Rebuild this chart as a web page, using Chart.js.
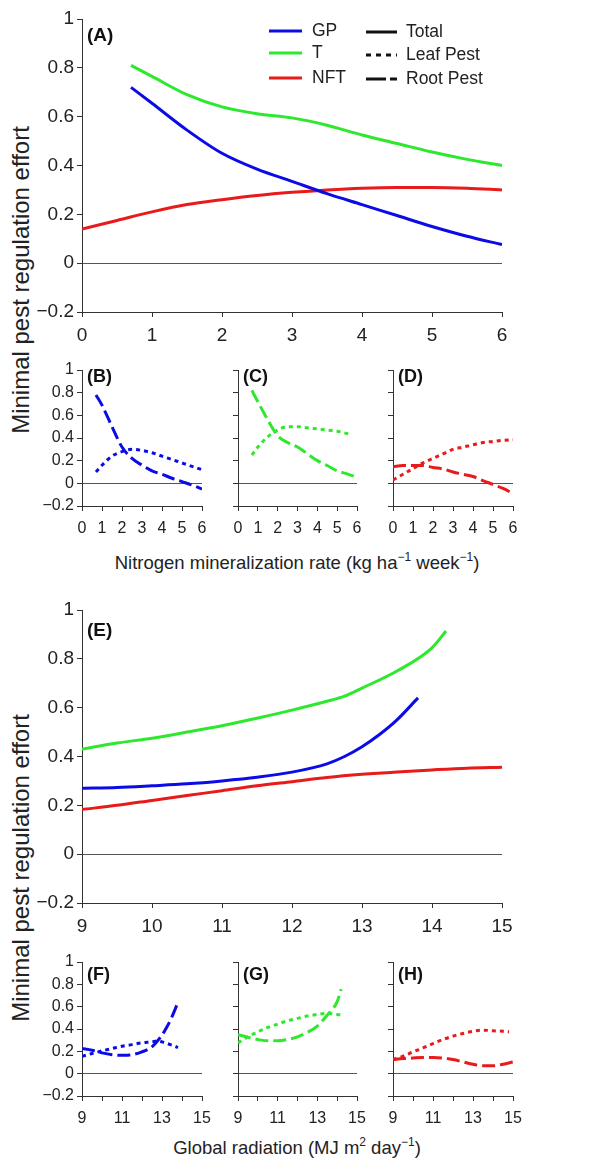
<!DOCTYPE html>
<html>
<head>
<meta charset="utf-8">
<script src="https://cdn.jsdelivr.net/npm/chart.js@4.4.0/dist/chart.umd.min.js"></script>
<style>
  body { margin: 0; background: #fff; }
  #page { position: relative; width: 613px; height: 1158px; overflow: hidden; font-family: "Liberation Sans", Arial, sans-serif; color: #222; }
  canvas { position: absolute; }
  .xtitle { position: absolute; font-size: 18.5px; white-space: nowrap; transform: translate(-50%, -50%); }
  .ytitle { position: absolute; font-size: 24px; white-space: nowrap; transform: translate(-50%, -50%) rotate(-90deg); }
  sup { font-size: 12px; }
</style>
</head>
<body>
<div id="page">
  <div class="ytitle" style="left:21px; top:280px;">Minimal pest regulation effort</div>
  <div class="ytitle" style="left:21px; top:868px;">Minimal pest regulation effort</div>
  <div class="xtitle" style="left:297px; top:562px;">Nitrogen mineralization rate (kg ha<sup>−1</sup> week<sup>−1</sup>)</div>
  <div class="xtitle" style="left:297px; top:1147px;">Global radiation (MJ m<sup>2</sup> day<sup>−1</sup>)</div>
</div>
<script>
// Colours for the three crop types
const BLUE = '#0b0be6';
const GREEN = '#2ee82e';
const RED = '#e81a1a';

// Nitrogen mineralization rate (x values)
const nitroX = [0, 0.5, 1, 1.5, 2, 2.5, 3, 3.5, 4, 4.5, 5, 5.5, 6];
const nitroX07 = [0.7, 1, 1.5, 2, 2.5, 3, 3.5, 4, 4.5, 5, 5.5, 6];
const tLeafNitroX = [0.7, 1, 1.5, 2, 2.5, 3, 3.5, 4, 4.5, 5, 5.7];

// (A) totals
const gpNitroTotal = [0.72, 0.655, 0.545, 0.45, 0.385, 0.335, 0.285, 0.24, 0.195, 0.15, 0.11, 0.076];
const tNitroTotal = [0.81, 0.765, 0.69, 0.64, 0.612, 0.595, 0.565, 0.525, 0.49, 0.455, 0.425, 0.40];
const nftNitroTotal = [0.14, 0.175, 0.21, 0.24, 0.26, 0.277, 0.29, 0.30, 0.307, 0.31, 0.31, 0.307, 0.30];

// (B) GP
const gpNitroRoot = [0.78, 0.69, 0.50, 0.32, 0.22, 0.16, 0.11, 0.08, 0.045, 0.015, -0.015, -0.05];
const gpNitroLeaf = [0.10, 0.16, 0.24, 0.28, 0.30, 0.29, 0.27, 0.24, 0.21, 0.18, 0.15, 0.12];
// (C) T
const tNitroRoot = [0.82, 0.72, 0.56, 0.42, 0.36, 0.32, 0.26, 0.20, 0.157, 0.11, 0.083, 0.053];
const tNitroLeaf = [0.25, 0.32, 0.41, 0.47, 0.50, 0.50, 0.49, 0.48, 0.47, 0.46, 0.43];
// (D) NFT
const nftNitroRoot = [0.148, 0.157, 0.157, 0.157, 0.14, 0.127, 0.10, 0.08, 0.06, 0.024, -0.01, -0.045, -0.09];
const nftNitroLeaf = [0.03, 0.08, 0.13, 0.18, 0.22, 0.26, 0.30, 0.32, 0.34, 0.36, 0.37, 0.38, 0.385];

// Global radiation (x values)
const radX = [9, 9.5, 10, 10.5, 11, 11.5, 12, 12.5, 13, 13.5, 14, 14.5, 15];
const tRadX = [9, 9.5, 10, 10.5, 11, 11.5, 12, 12.5, 12.75, 13, 13.5, 14, 14.2];
const gpRadX = [9, 9.5, 10, 10.5, 11, 11.5, 12, 12.5, 12.75, 13, 13.25, 13.5, 13.8];
const gpRootRadX = [9, 9.5, 10, 10.5, 11, 11.5, 12, 12.5, 13, 13.25, 13.5, 13.8];
const gpLeafRadX = [9, 9.5, 10, 10.5, 11, 11.5, 12, 12.5, 12.8, 13, 13.5, 13.8];
const tPestRadX = [9, 9.5, 10, 10.5, 11, 11.5, 12, 12.5, 13, 13.5, 14, 14.2];
const nftLeafRadX = [9, 9.5, 10, 10.5, 11, 11.5, 12, 12.5, 13, 13.5, 14, 14.5, 14.8];

// (E) totals
const gpRadTotal = [0.27, 0.273, 0.28, 0.288, 0.30, 0.315, 0.336, 0.37, 0.40, 0.44, 0.49, 0.55, 0.64];
const tRadTotal = [0.43, 0.455, 0.475, 0.50, 0.526, 0.557, 0.59, 0.626, 0.647, 0.68, 0.75, 0.845, 0.914];
const nftRadTotal = [0.183, 0.20, 0.22, 0.24, 0.26, 0.28, 0.297, 0.314, 0.327, 0.337, 0.345, 0.352, 0.356];

// (F) GP
const gpRadRoot = [0.225, 0.21, 0.186, 0.17, 0.165, 0.17, 0.195, 0.24, 0.345, 0.42, 0.51, 0.64];
const gpRadLeaf = [0.156, 0.18, 0.204, 0.225, 0.246, 0.26, 0.276, 0.285, 0.294, 0.285, 0.255, 0.234];
// (G) T
const tRadRoot = [0.35, 0.325, 0.306, 0.294, 0.294, 0.306, 0.33, 0.37, 0.426, 0.525, 0.645, 0.757];
const tRadLeaf = [0.276, 0.33, 0.375, 0.414, 0.444, 0.474, 0.495, 0.516, 0.53, 0.54, 0.53, 0.525];
// (H) NFT
const nftRadRoot = [0.126, 0.135, 0.14, 0.144, 0.144, 0.14, 0.126, 0.105, 0.084, 0.07, 0.07, 0.084, 0.105];
const nftRadLeaf = [0.126, 0.156, 0.195, 0.23, 0.27, 0.306, 0.336, 0.36, 0.38, 0.39, 0.384, 0.38, 0.375];

const FONT = '"Liberation Sans", Arial, sans-serif';
const ROOT_DASH = [13, 5];
const LEAF_DASH = [4, 4];

function pts(xs, ys) {
    return xs.map((x, i) => ({ x: x, y: ys[i] }));
}

function series(xs, ys, color, dash) {
    return {
        data: pts(xs, ys),
        borderColor: color,
        borderWidth: 3,
        borderDash: dash || [],
        borderCapStyle: 'butt',
        pointRadius: 0,
        cubicInterpolationMode: 'monotone',
        fill: false
    };
}

function fmtY(v) {
    const r = Math.round(v * 10) / 10;
    return String(r).replace('-', '\u2212');
}

// Panel label like "(A)", placed relative to the chart area
const panelLabel = {
    id: 'panelLabel',
    afterDraw(chart, args, opts) {
        const ctx = chart.ctx;
        ctx.save();
        ctx.fillStyle = '#111';
        ctx.font = 'bold ' + opts.size + 'px ' + FONT;
        ctx.textBaseline = 'middle';
        ctx.fillText(opts.text, chart.chartArea.left + 5, chart.chartArea.top + opts.dy);
        ctx.restore();
    }
};

// Key for panel A: crop colours and line styles
const seriesKey = {
    id: 'seriesKey',
    afterDraw(chart, args, opts) {
        if (!opts.show) return;
        const ctx = chart.ctx;
        ctx.save();
        ctx.font = '17.5px ' + FONT;
        ctx.textBaseline = 'middle';
        ctx.lineWidth = 3;
        const crops = [['GP', BLUE, 31], ['T', GREEN, 53], ['NFT', RED, 78]];
        crops.forEach(c => {
            ctx.strokeStyle = c[1];
            ctx.setLineDash([]);
            ctx.beginPath();
            ctx.moveTo(269, c[2]);
            ctx.lineTo(302, c[2]);
            ctx.stroke();
            ctx.fillStyle = '#222';
            ctx.fillText(c[0], 312, c[2]);
        });
        const kinds = [['Total', [], 32], ['Leaf Pest', [5, 5], 55], ['Root Pest', [20, 4, 7, 100], 79]];
        kinds.forEach(k => {
            ctx.strokeStyle = '#111';
            ctx.setLineDash(k[1]);
            ctx.beginPath();
            ctx.moveTo(366, k[2]);
            ctx.lineTo(397, k[2]);
            ctx.stroke();
            ctx.fillStyle = '#222';
            ctx.fillText(k[0], 406, k[2]);
        });
        ctx.restore();
    }
};

function makePanel(p) {
    const canvas = document.createElement('canvas');
    canvas.width = p.w;
    canvas.height = p.h;
    canvas.style.left = p.x + 'px';
    canvas.style.top = p.y + 'px';
    canvas.style.width = p.w + 'px';
    canvas.style.height = p.h + 'px';
    document.getElementById('page').appendChild(canvas);

    const yWidth = p.area[0] - p.x;
    const xHeight = p.y + p.h - p.area[3];

    return new Chart(canvas.getContext('2d'), {
        type: 'line',
        data: { datasets: p.datasets },
        options: {
            responsive: false,
            animation: false,
            events: [],
            layout: {
                padding: { top: p.area[2] - p.y, right: p.x + p.w - p.area[1], bottom: 0, left: 0 }
            },
            scales: {
                x: {
                    type: 'linear',
                    min: p.xMin,
                    max: p.xMax,
                    afterFit: s => { s.height = xHeight; },
                    border: { display: true, color: '#333', width: 1 },
                    grid: { drawOnChartArea: false, tickLength: 5, tickColor: '#333' },
                    ticks: {
                        stepSize: 1,
                        autoSkip: false,
                        maxRotation: 0,
                        padding: p.xPad,
                        color: '#222',
                        font: { family: FONT, size: p.font },
                        callback: p.xLabel || (v => String(v))
                    }
                },
                y: {
                    min: -0.2,
                    max: 1,
                    afterFit: s => { s.width = yWidth; },
                    border: { display: true, color: '#333', width: 1 },
                    grid: {
                        tickLength: 5,
                        tickColor: '#333',
                        lineWidth: 1,
                        color: c => (c.tick && Math.abs(c.tick.value) < 1e-9) ? '#555' : 'rgba(0,0,0,0)'
                    },
                    ticks: {
                        stepSize: 0.2,
                        padding: 3,
                        color: '#222',
                        font: { family: FONT, size: p.font },
                        callback: p.yLabels ? fmtY : (() => '')
                    }
                }
            },
            plugins: {
                legend: { display: false },
                tooltip: { enabled: false },
                panelLabel: { text: p.label, dy: p.labelDy, size: p.labelSize },
                seriesKey: { show: !!p.key }
            }
        },
        plugins: [panelLabel, seriesKey]
    });
}

const oddOnly = v => (v % 2 === 1 ? String(v) : '');

// Nitrogen block
makePanel({ x: 0, y: 0, w: 613, h: 352, area: [82, 502, 19, 312], xMin: 0, xMax: 6, font: 19, xPad: 7,
    yLabels: true, label: '(A)', labelDy: 17, labelSize: 19, key: true,
    datasets: [
        series(nitroX07, gpNitroTotal, BLUE),
        series(nitroX07, tNitroTotal, GREEN),
        series(nitroX, nftNitroTotal, RED)
    ] });
makePanel({ x: 0, y: 352, w: 220, h: 194, area: [82, 202, 370, 506], xMin: 0, xMax: 6, font: 16, xPad: 8,
    yLabels: true, label: '(B)', labelDy: 7, labelSize: 18,
    datasets: [
        series(nitroX07, gpNitroRoot, BLUE, ROOT_DASH),
        series(nitroX07, gpNitroLeaf, BLUE, LEAF_DASH)
    ] });
makePanel({ x: 220, y: 352, w: 155, h: 194, area: [238, 357, 370, 506], xMin: 0, xMax: 6, font: 16, xPad: 8,
    yLabels: false, label: '(C)', labelDy: 7, labelSize: 18,
    datasets: [
        series(nitroX07, tNitroRoot, GREEN, ROOT_DASH),
        series(tLeafNitroX, tNitroLeaf, GREEN, LEAF_DASH)
    ] });
makePanel({ x: 375, y: 352, w: 238, h: 194, area: [393, 513, 370, 506], xMin: 0, xMax: 6, font: 16, xPad: 8,
    yLabels: false, label: '(D)', labelDy: 7, labelSize: 18,
    datasets: [
        series(nitroX, nftNitroRoot, RED, ROOT_DASH),
        series(nitroX, nftNitroLeaf, RED, LEAF_DASH)
    ] });

// Radiation block
makePanel({ x: 0, y: 580, w: 613, h: 363, area: [82, 502, 610, 903], xMin: 9, xMax: 15, font: 19, xPad: 7,
    yLabels: true, label: '(E)', labelDy: 21, labelSize: 19,
    datasets: [
        series(gpRadX, gpRadTotal, BLUE),
        series(tRadX, tRadTotal, GREEN),
        series(radX, nftRadTotal, RED)
    ] });
makePanel({ x: 0, y: 945, w: 220, h: 191, area: [82, 202, 962, 1096], xMin: 9, xMax: 15, font: 16, xPad: 8,
    yLabels: true, label: '(F)', labelDy: 13, labelSize: 18, xLabel: oddOnly,
    datasets: [
        series(gpRootRadX, gpRadRoot, BLUE, ROOT_DASH),
        series(gpLeafRadX, gpRadLeaf, BLUE, LEAF_DASH)
    ] });
makePanel({ x: 220, y: 945, w: 155, h: 191, area: [238, 357, 962, 1096], xMin: 9, xMax: 15, font: 16, xPad: 8,
    yLabels: false, label: '(G)', labelDy: 13, labelSize: 18, xLabel: oddOnly,
    datasets: [
        series(tPestRadX, tRadRoot, GREEN, ROOT_DASH),
        series(tPestRadX, tRadLeaf, GREEN, LEAF_DASH)
    ] });
makePanel({ x: 375, y: 945, w: 238, h: 191, area: [393, 513, 962, 1096], xMin: 9, xMax: 15, font: 16, xPad: 8,
    yLabels: false, label: '(H)', labelDy: 13, labelSize: 18, xLabel: oddOnly,
    datasets: [
        series(radX, nftRadRoot, RED, ROOT_DASH),
        series(nftLeafRadX, nftRadLeaf, RED, LEAF_DASH)
    ] });
</script>
</body>
</html>
